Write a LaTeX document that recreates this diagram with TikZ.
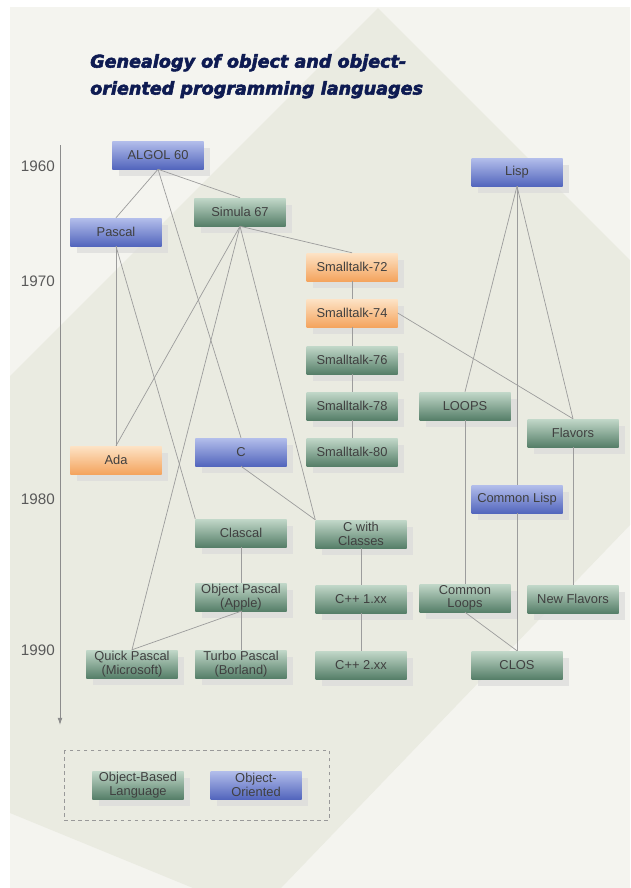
\documentclass[tikz,border=0pt]{standalone}
\usepackage{fontspec}
\setmainfont{Liberation Sans}
\newfontfamily\titlefont[BoldItalicFeatures={FakeBold=3}]{DejaVu Sans}
\usetikzlibrary{arrows.meta, shadows}

\definecolor{bgpale}{HTML}{F4F4EF}
\definecolor{bgdiam}{HTML}{EAEBE1}
\definecolor{titleblue}{HTML}{0E1B52}
\definecolor{greentop}{HTML}{C2D8C9}
\definecolor{greenbot}{HTML}{567F69}
\definecolor{bluetop}{HTML}{B3BEEB}
\definecolor{bluebot}{HTML}{5366BD}
\definecolor{orangetop}{HTML}{FDE3C6}
\definecolor{orangebot}{HTML}{F4A45E}
\definecolor{linkgray}{HTML}{9C9C9C}

\tikzset{
    lang/.style={minimum width=2.73cm, minimum height=0.84cm, inner sep=1pt,
        align=center, text=black!75, font=\fontsize{11}{11.5}\selectfont,
        drop shadow={shadow xshift=0.2cm, shadow yshift=-0.2cm, fill=black!14, opacity=0.7}},
    objbased/.style={lang, top color=greentop, bottom color=greenbot},
    objorient/.style={lang, top color=bluetop, bottom color=bluebot},
    hybrid/.style={lang, top color=orangetop, bottom color=orangebot},
    link/.style={draw=linkgray, line width=0.6pt},
    year/.style={anchor=east, text=black!65, font=\fontsize{13}{13}\selectfont},
}

\begin{document}
\begin{tikzpicture}[x=0.03cm,y=-0.03cm]
    \useasboundingbox (0,0) rectangle (630,888);
    % background
    \fill[bgpale] (10,7) rectangle (630,888);
    \fill[bgdiam] (378,8) -- (630,260) -- (630,525) -- (281,888) -- (193,888)
        -- (10,813) -- (10,376) -- cycle;

    % title
    \node[anchor=north west, align=left, text=titleblue, inner sep=0pt,
        font=\titlefont\bfseries\itshape\fontsize{15}{23}\selectfont] (title) at (90,54)
        {Genealogy of object and object-\\oriented programming languages};

    % time axis
    \coordinate (axtop) at (60,145);
    \coordinate (axbot) at (60,725);
    \draw[draw=black!45, line width=0.7pt, -{Latex[length=6pt,width=4pt]}] (axtop) -- (axbot);
    \foreach \yr/\ypos in {1960/166,1970/281,1980/499,1990/650} {
        \node[year] (y\yr) at (59,\ypos) {\yr};
    }

    % languages
    \node[objorient] (algol) at (158,155) {ALGOL 60};
    \node[objorient] (lisp) at (517,172) {Lisp};
    \node[objbased] (simula) at (240,212) {Simula 67};
    \node[objorient] (pascal) at (116,232) {Pascal};
    \node[hybrid] (st72) at (352,267) {Smalltalk-72};
    \node[hybrid] (st74) at (352,313) {Smalltalk-74};
    \node[objbased] (st76) at (352,360) {Smalltalk-76};
    \node[objbased] (st78) at (352,406) {Smalltalk-78};
    \node[objbased] (st80) at (352,452) {Smalltalk-80};
    \node[objbased] (loops) at (465,406) {LOOPS};
    \node[objbased] (flavors) at (573,433) {Flavors};
    \node[objorient] (c) at (241,452) {C};
    \node[hybrid] (ada) at (116,460) {Ada};
    \node[objorient] (commonlisp) at (517,499) {Common Lisp};
    \node[objbased] (clascal) at (241,533) {Clascal};
    \node[objbased] (cwc) at (361,534) {C with\\Classes};
    \node[objbased] (objpascal) at (241,597) {Object Pascal\\(Apple)};
    \node[objbased] (cpp1) at (361,599) {C++ 1.xx};
    \node[objbased] (commonloops) at (465,598) {Common\\Loops};
    \node[objbased] (newflavors) at (573,599) {New Flavors};
    \node[objbased] (quickpascal) at (132,664) {Quick Pascal\\(Microsoft)};
    \node[objbased] (turbopascal) at (241,664) {Turbo Pascal\\(Borland)};
    \node[objbased] (cpp2) at (361,665) {C++ 2.xx};
    \node[objbased] (clos) at (517,665) {CLOS};

    % lineage
    \draw[link] (algol.south) -- (pascal.north);
    \draw[link] (algol.south) -- (simula.north);
    \draw[link] (algol.south) -- (c.north);
    \draw[link] (pascal.south) -- (ada.north);
    \draw[link] (pascal.south) -- (clascal.north west);
    \draw[link] (simula.south) -- (st72.north);
    \draw[link] (simula.south) -- (ada.north);
    \draw[link] (simula.south) -- (quickpascal.north);
    \draw[link] (simula.south) -- (cwc.north west);
    \draw[link] (c.south) -- (cwc.north west);
    \foreach \a/\b in {st72/st74,st74/st76,st76/st78,st78/st80} {
        \draw[link] (\a.south) -- (\b.north);
    }
    \draw[link] (st74.east) -- (flavors.north);
    \draw[link] (lisp.south) -- (loops.north);
    \draw[link] (lisp.south) -- (flavors.north);
    \draw[link] (lisp.south) -- (commonlisp.north);
    \draw[link] (commonlisp.south) -- (clos.north);
    \draw[link] (loops.south) -- (commonloops.north);
    \draw[link] (flavors.south) -- (newflavors.north);
    \draw[link] (commonloops.south) -- (clos.north);
    \draw[link] (clascal.south) -- (objpascal.north);
    \draw[link] (objpascal.south) -- (turbopascal.north);
    \draw[link] (objpascal.south) -- (quickpascal.north);
    \draw[link] (cwc.south) -- (cpp1.north);
    \draw[link] (cpp1.south) -- (cpp2.north);

    % legend
    \draw[draw=black!40, dashed, line width=0.6pt] (64,750) rectangle (329,820);
    \node[objbased] (keybased) at (138,785) {Object-Based\\Language};
    \node[objorient] (keyoriented) at (256,785) {Object-\\Oriented};
\end{tikzpicture}
\end{document}
